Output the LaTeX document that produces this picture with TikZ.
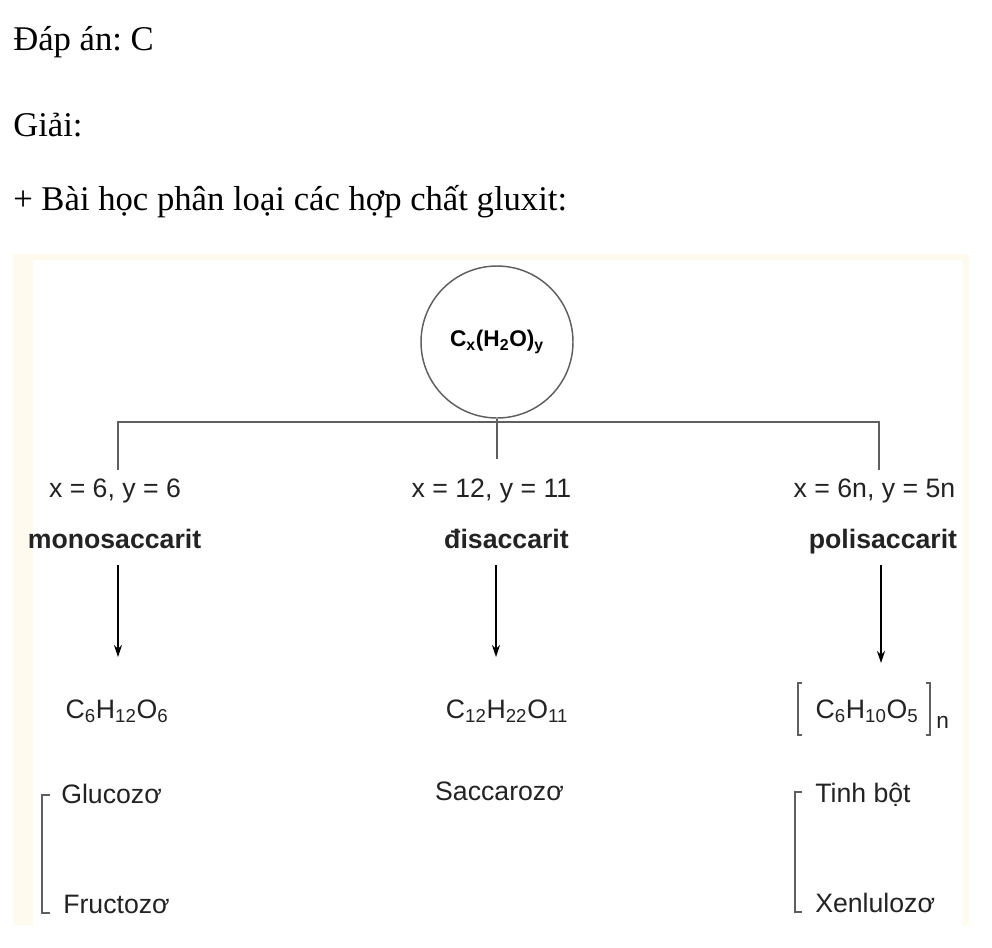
\documentclass[tikz,border=0pt]{standalone}
\usepackage{fontspec}
\setmainfont{Liberation Serif}
\newfontfamily\diagfont{Liberation Sans}
\usetikzlibrary{arrows,arrows.meta,positioning}
\frenchspacing
\definecolor{creamframe}{RGB}{255,250,238}
\definecolor{linegray}{RGB}{95,95,95}
\definecolor{inkgray}{RGB}{35,35,35}
\tikzset{
     topline/.style = {anchor=base west, inner sep=0pt, font=\fontsize{26}{30}\selectfont},
     lbl/.style     = {anchor=base, inner sep=0pt, text=inkgray, font=\diagfont\fontsize{20}{24}\selectfont},
     catname/.style = {lbl, font=\diagfont\bfseries\fontsize{20}{24}\selectfont},
     leftlbl/.style = {lbl, anchor=base west},
     root/.style    = {circle, draw=linegray, line width=1.1pt, minimum size=114pt, inner sep=0pt,
                       text=black, font=\diagfont\bfseries\fontsize{17}{20}\selectfont},
     branch/.style  = {linegray, line width=1.4pt},
     downarr/.style = {black, ->, >={Stealth[length=9pt,width=6pt]}, line width=1.1pt},
     brack/.style   = {linegray, line width=1.1pt},
    }
\begin{document}
\begin{tikzpicture}[x=0.75pt,y=-0.75pt]
            \useasboundingbox (0,0) rectangle (992,947);

            \node [topline] (answer) at (13,50)  {Đáp án: C};
            \node [topline] (solve)  at (13,136) {Giải:};
            \node [topline] (lesson) at (13,210) {+ Bài học phân loại các hợp chất gluxit:};

            \fill [creamframe] (13,254) rectangle (969,925);
            \fill [white] (33,260) rectangle (963,925);

            \node [root] (root) at (497,342) {C\textsubscript{x}(H\textsubscript{2}O)\textsubscript{y}};

            \node [lbl] (xy1) at (115,497)   {x = 6, y = 6};
            \node [lbl] (xy2) at (491.5,497) {x = 12, y = 11};
            \node [lbl] (xy3) at (874.5,497) {x = 6n, y = 5n};

            \node [catname] (mono) at (114.5,548) {monosaccarit};
            \node [catname] (di)   at (506.5,548) {đisaccarit};
            \node [catname] (poli) at (883,548)   {polisaccarit};

            \node [lbl] (f1) at (117,718) {C\textsubscript{6}H\textsubscript{12}O\textsubscript{6}};
            \node [lbl] (f2) at (507,718) {C\textsubscript{12}H\textsubscript{22}O\textsubscript{11}};
            \node [lbl] (f3) at (867,718) {C\textsubscript{6}H\textsubscript{10}O\textsubscript{5}};
            \node [leftlbl, font=\diagfont\fontsize{17}{20}\selectfont] (f3n) at (936,728) {n};

            \node [leftlbl] (gluc) at (61,803)  {Glucozơ};
            \node [leftlbl] (fruc) at (63,913)  {Fructozơ};
            \node [lbl]     (sacc) at (499.5,800) {Saccarozơ};
            \node [leftlbl] (tinh) at (815,802) {Tinh bột};
            \node [leftlbl] (xenl) at (815,912) {Xenlulozơ};

            \coordinate (j1) at (118,422);
            \coordinate (j2) at (497,422);
            \coordinate (j3) at (879,422);
            \coordinate (t1) at (118,470);
            \coordinate (t2) at (497,459);
            \coordinate (t3) at (879,470);

            \draw [branch] (t1) -- (j1) -- (j3) -- (t3);
            \draw [branch] (root.south) -- (t2);

            \coordinate (a1) at (118,565);
            \coordinate (b1) at (118,657);
            \coordinate (a2) at (496,565);
            \coordinate (b2) at (496,657);
            \coordinate (a3) at (881,565);
            \coordinate (b3) at (881,663);

            \draw [downarr] (a1) -- (b1);
            \draw [downarr] (a2) -- (b2);
            \draw [downarr] (a3) -- (b3);

            \draw [brack] (802,683) -- (798,683) -- (798,735) -- (802,735);
            \draw [brack] (926,683) -- (930,683) -- (930,735) -- (926,735);

            \draw [brack] (50,795) -- (42,795) -- (42,913) -- (50,913);
            \draw [brack] (802,792) -- (795,792) -- (795,912) -- (802,912);
      \end{tikzpicture}
\end{document}
